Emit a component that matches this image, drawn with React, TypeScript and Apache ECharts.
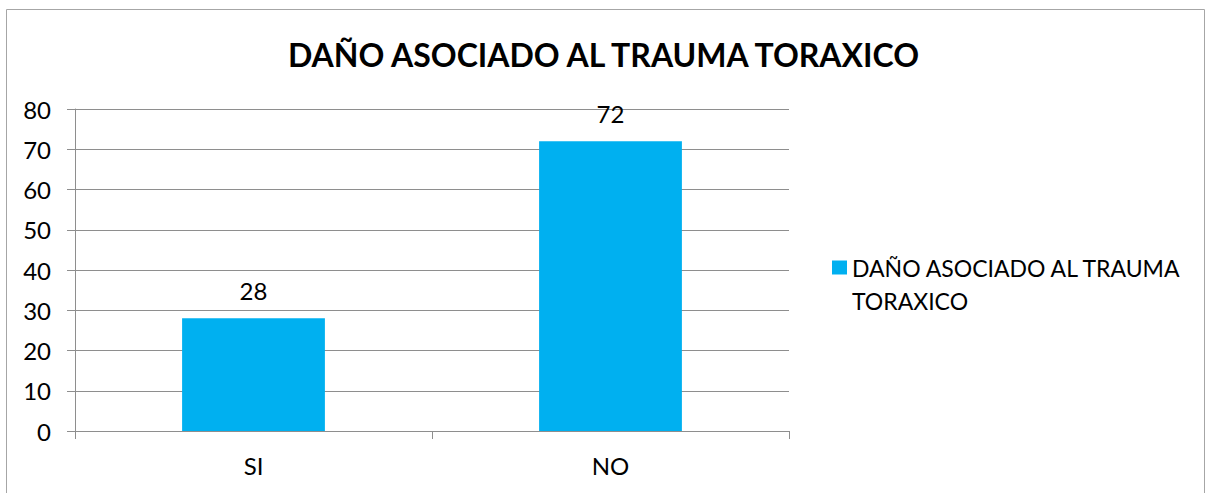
import React, { useEffect, useRef } from "react";
import * as echarts from "echarts";

const categories = ["SI", "NO"];
const values = [28, 72];
const seriesName = "DAÑO ASOCIADO AL TRAUMA TORAXICO";
const titleText = "DAÑO ASOCIADO AL TRAUMA TORAXICO";

const FONT = "Lato, 'Open Sans', sans-serif";

export default function App() {
  const ref = useRef<HTMLDivElement>(null);
  useEffect(() => {
    if (!ref.current) return;
    const chart = echarts.init(ref.current, undefined, { renderer: "svg" });
    chart.setOption({
      animation: false,
      backgroundColor: "#ffffff",
      textStyle: { fontFamily: FONT },
      title: {
        text: titleText,
        left: "center",
        top: 33,
        textStyle: { fontFamily: FONT, fontWeight: "bold", fontSize: 32, color: "#000000" },
      },
      graphic: [
        {
          type: "rect",
          shape: { x: 6.5, y: 9.5, width: 1198, height: 500 },
          style: { fill: "none", stroke: "#A6A6A6", lineWidth: 1 },
          silent: true,
        },
      ],
      legend: {
        left: 827,
        top: 213,
        orient: "vertical",
        itemWidth: 15,
        itemHeight: 14,
        itemGap: 7,
        icon: "rect",
        data: [seriesName],
        formatter: () => "\nDAÑO ASOCIADO AL TRAUMA\nTORAXICO",
        textStyle: {
          fontFamily: FONT,
          fontSize: 23,
          color: "#000000",
          lineHeight: 33,
        },
      },
      grid: { left: 75, right: 418, top: 109, bottom: 62, containLabel: false },
      xAxis: {
        type: "category",
        data: categories,
        axisLine: { show: true, lineStyle: { color: "#8E8E8E" } },
        axisTick: { show: true, length: 8, lineStyle: { color: "#8E8E8E" } },
        axisLabel: { fontFamily: FONT, fontSize: 24, color: "#000000", margin: 22 },
      },
      yAxis: {
        type: "value",
        min: 0,
        max: 80,
        interval: 10,
        axisLine: { show: true, lineStyle: { color: "#8E8E8E" } },
        axisTick: { show: true, length: 8, lineStyle: { color: "#8E8E8E" } },
        axisLabel: { fontFamily: FONT, fontSize: 24, color: "#000000", margin: 24 },
        splitLine: { show: true, lineStyle: { color: "#8E8E8E" } },
      },
      series: [
        {
          name: seriesName,
          type: "bar",
          data: values,
          barWidth: "40%",
          itemStyle: { color: "#00B0F0" },
          label: {
            show: true,
            position: "top",
            distance: 16,
            fontFamily: FONT,
            fontSize: 24,
            color: "#000000",
          },
        },
      ],
    });
    return () => chart.dispose();
  }, []);
  return (
    <div
      ref={ref}
      style={{ position: "absolute", left: 0, top: 0, width: 1207, height: 493 }}
    />
  );
}
